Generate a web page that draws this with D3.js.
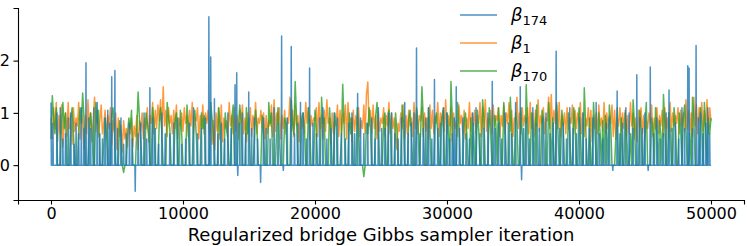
<!DOCTYPE html>
<html>
<head>
<meta charset="utf-8">
<script src="https://cdn.jsdelivr.net/npm/d3@7"></script>
<style>
  body { margin: 0; background: #fff; }
  text { font-family: "DejaVu Sans", sans-serif; }
</style>
</head>
<body>
<div id="chart"></div>
<script>
// Figure is 747 x 246 px.
var width = 747;
var height = 246;

// Trace values, one every 100 iterations (0 .. 50000).
var step = 100;
var beta1 = [
  0.9,0.5,1.1,0.7,1.2,0.45,0.95,0.6,1.15,0.35,0.8,1.0,0.55,1.2,0.7,0.95,0.4,1.1,0.65,0.9,
  0.75,1.2,0.5,1.05,0.85,0.3,0.95,0.6,1.25,0.7,1.0,0.45,0.9,1.3,0.65,1.05,0.55,0.85,1.15,0.6,
  0.8,1.05,0.5,0.95,0.7,1.1,0.4,0.85,0.65,1.0,0.3,0.9,0.55,0.75,0.25,0.85,0.5,0.7,0.35,0.8,
  0.6,0.9,0.35,0.75,0.55,0.95,0.3,0.85,0.65,1.0,0.5,0.9,0.7,1.1,0.45,0.95,0.8,1.2,0.6,1.05,
  0.7,1.15,0.85,1.25,0.6,1.5,0.75,1.05,0.55,1.1,0.8,0.95,0.6,1.05,0.7,1.15,0.5,0.9,0.75,1.0,
  0.65,1.1,0.8,0.95,0.55,1.05,0.75,1.2,0.6,0.9,0.85,1.1,0.5,0.95,0.7,1.15,0.6,1.0,0.8,1.05,
  0.6,0.95,0.4,0.85,0.3,1.0,0.65,1.1,0.5,1.15,0.45,0.9,0.7,0.85,0.55,1.2,0.75,0.95,0.6,1.1,
  0.65,0.95,0.5,1.05,0.8,1.15,0.6,0.9,0.45,1.0,0.75,1.1,0.55,0.95,0.7,1.2,0.6,0.9,0.8,1.05,
  0.7,1.0,0.5,0.95,0.6,0.85,0.75,1.15,0.55,1.25,0.65,1.0,0.8,1.1,0.5,0.95,0.7,1.05,0.6,0.9,
  0.8,1.3,0.65,1.05,0.55,1.15,0.75,0.95,0.45,1.0,0.7,0.9,0.6,1.2,0.8,1.1,0.5,0.95,0.75,0.9,
  0.85,1.1,0.55,1.2,0.7,0.95,0.5,1.05,0.65,1.25,0.8,0.9,0.4,1.0,0.6,0.85,0.75,1.15,0.55,1.05,
  0.6,1.0,0.8,1.15,0.5,1.2,0.7,0.9,0.45,1.05,0.65,0.95,0.75,1.1,0.55,0.85,0.7,1.15,0.6,1.35,
  1.59,0.75,1.05,0.6,1.15,0.7,0.95,0.5,1.0,0.65,0.9,0.8,1.1,0.55,0.95,0.75,1.2,0.6,1.0,0.7,
  0.9,0.55,0.3,0.8,0.65,1.0,0.7,1.15,0.5,0.95,0.6,1.05,0.75,0.9,0.55,1.2,0.7,1.05,0.6,0.95,
  0.85,1.1,0.55,1.0,0.65,0.9,0.5,1.15,0.7,1.05,0.6,0.95,0.8,1.2,0.55,1.0,0.75,1.1,0.65,1.25,
  0.6,0.95,0.75,1.1,0.45,1.0,0.7,0.85,0.55,1.15,0.8,0.95,0.6,1.05,0.5,0.9,0.7,1.2,0.65,1.0,
  0.75,1.05,0.6,0.95,0.8,1.2,0.55,1.1,0.7,1.25,0.65,0.9,0.8,1.05,0.6,1.15,0.75,0.95,0.85,1.1,
  0.55,0.95,0.75,1.15,0.6,1.0,0.8,1.2,0.65,1.05,0.55,0.9,0.85,1.3,0.7,1.0,0.6,1.1,0.75,0.95,
  0.8,1.1,0.6,1.2,0.7,1.0,0.55,1.05,0.75,1.25,0.65,0.95,0.8,1.1,0.6,0.9,0.85,1.3,0.7,1.35,
  0.65,1.05,0.8,1.15,0.7,1.2,0.55,0.95,0.75,1.0,0.6,1.1,0.7,0.9,0.8,1.15,0.6,1.05,0.7,1.0,
  0.8,1.2,0.6,1.0,0.55,0.9,0.75,1.1,0.65,1.05,0.45,0.95,0.7,1.0,0.6,1.15,0.75,0.9,0.65,1.2,
  0.6,1.0,0.7,0.95,0.8,1.15,0.55,1.05,0.5,0.9,0.75,1.1,0.65,1.0,0.7,1.05,0.55,0.95,0.6,1.2,
  0.75,1.0,0.5,0.9,0.45,1.05,0.7,1.1,0.6,0.95,0.5,0.85,0.7,1.0,0.8,1.15,0.55,0.9,0.7,1.1,
  0.6,0.95,0.75,1.05,0.55,1.1,0.7,0.9,0.5,1.2,0.65,1.0,0.75,0.95,0.8,1.1,0.6,1.05,0.75,1.0,
  0.65,1.25,0.7,1.05,0.6,1.0,0.55,1.3,0.75,1.15,0.6,1.1,0.8,1.2,0.65,1.05,0.7,1.25,0.6,1.1,
  0.85
];
var beta170 = [
  0.5,1.33,0.9,0.6,1.1,0,0,0,0.8,1.2,0.7,1.0,0,0,0,0.9,1.1,0.6,0,0,
  0,0.7,1.1,0.8,1.38,0.9,0,0,0,0.6,1.0,0.7,0,0,1.2,0.8,1.05,0,0,0,
  0.4,0.9,0.6,0,0,0,0.95,1.1,0.7,0,0,0,0.85,0.6,0,-0.14,0,0,0.6,0.9,
  0.7,1.05,0,0,0,0.7,1.4,0.9,0.5,0,0,0,1.0,0.8,0.6,0,0,1.1,0.8,0,
  0,0,0.8,1.1,0.6,0,0,0,1.2,0.9,0.7,0,0,0,0.85,1.0,0,0,1.05,0.6,
  0,0,0,1.15,0.8,0,0,0,0.9,1.05,0.6,0,0,0,1.0,0.7,0.95,0,0,0,
  0,1.2,0.9,0.6,0,0,0,1.1,0.8,0,0,0,1.0,0.7,0.5,0,0,0.9,1.15,0,
  0,0,0.7,1.15,0.85,0,0,0,1.1,0.6,0.9,0,0,0,0.4,1.05,0.7,0,0,0,
  0.95,0.6,0,0,0,1.2,0.8,1.0,0,0,0,0.7,1.1,0.5,0,0,0,0.9,0.8,0,
  0,0,1.25,0.8,0.6,1.6,0.9,0,0,0,0.9,1.0,0.7,0,0,1.1,0.8,0,0,0,
  1.05,0.7,0,0,0,1.3,0.8,0.9,0,0,0,1.1,0.7,0,0,1.0,0.8,0,0,0,
  0.5,1.55,0.8,0,0,0,1.0,0.6,0.9,0,0,0,1.1,0.7,0,0,0,-0.22,0,0.8,
  0.6,1.1,0.7,0,0,0,0.95,1.2,0.7,0,0,0,0.85,1.0,0,0,1.05,0.8,0,0,
  0,1.0,0.7,0,0,0,1.15,0.8,0,0,0,0.9,1.05,0.6,0,0,0,1.1,0.8,0,
  0.6,1.5,0.9,0,0,0,1.1,0.7,0,0,0,0.8,1.0,0.6,0,0,0.9,1.05,0,0,
  1.0,0.7,0,1.6,0.9,0,0,0,1.2,0.8,0,0,0,0.8,1.0,0.6,0,0,0.9,0,
  0.8,0,0,1.05,0.7,0,0,1.25,0.9,0,0,0,1.1,0.7,0,0,0.95,0.8,0,1.1,
  0.6,0,0,1.2,0.8,0,0,0,1.3,0.7,0,0,1.0,0.8,0,0,1.1,0.6,0,0,
  1.54,0.8,0,0,1.0,0.7,0,0.8,1.15,0,0,0,1.05,0.9,0,0,0,1.2,0.7,0,
  0.9,0,0,1.2,0.7,0,0,1.05,0.8,0,0,0,1.0,0.6,0,0,1.1,0.8,0,0,
  1.1,0.7,0,0,1.48,0.8,0,0,0.9,0,0,1.2,0.7,0,0,1.0,0.6,0,0.85,0,
  0.95,0.7,0,1.15,0.8,0,0,0,0.6,1.1,0,0,0.9,0,0,1.0,0.7,0,0,0.6,
  0,1.25,0.8,0,0,0,1.05,0.7,0,0,0.8,1.2,0,0,0,0.9,0.7,0,1.1,0.6,
  0,0.85,0.6,0,1.35,0.8,0,0,1.0,0.7,0,0,1.1,0.8,0,0,1.0,0.7,0,0.9,
  1.15,0.7,0,0,0.6,0,1.3,0.9,0,0,0,0,1.1,0.8,0,1.2,0.7,0,0.9,0.6,
  0.9
];
// beta_174 sits at 0 apart from short spikes: [iteration, height].
var blueSpikes = [
  [0,1.2],[150,0.8],[450,1.0],[700,1.1],[900,0.5],[1100,0.6],[1300,0.9],[1500,1.0],[1750,0.4],[1900,0.8],
  [2100,0.6],[2300,1.1],[2500,0.7],[2650,1.96],[2850,0.9],[3000,0.7],[3250,1.1],[3500,1.2],[3700,0.6],[3900,0.5],
  [4100,0.9],[4300,1.05],[4450,0.8],[4600,1.69],[4840,1.81],[5050,0.7],[5300,0.9],[5500,0.4],[5700,0.6],[5950,0.8],
  [6150,0.5],[6380,-0.5],[6600,0.6],[6800,0.8],[7050,1.0],[7250,0.5],[7490,1.48],[7700,0.9],[7900,0.7],[8150,0.4],
  [8400,1.0],[8650,0.6],[9000,0.6],[9300,0.8],[9600,0.9],[9900,0.4],[10200,0.5],[10500,0.8],[10800,1.1],[11100,0.6],
  [11400,0.7],[11700,0.9],[11960,2.84],[12100,2.07],[12380,1.27],[12650,0.6],[12900,0.8],[13150,0.5],[13400,1.0],[13650,0.7],
  [13940,1.54],[14070,1.77],[14150,-0.2],[14300,0.8],[14500,1.0],[14750,0.6],[14980,1.4],[15200,0.7],[15400,0.9],[15650,0.5],
  [15880,-0.33],[16100,0.9],[16300,0.7],[16600,0.5],[16900,1.1],[17200,0.8],[17470,2.47],[17600,-0.1],[17900,0.9],[18200,2.27],
  [18450,0.6],[18700,0.8],[18900,1.2],[19100,1.0],[19350,0.5],[19590,1.86],[19850,0.8],[20100,0.6],[20350,0.9],[20600,1.1],
  [20900,0.5],[21200,0.7],[21450,1.0],[21700,0.9],[22000,0.6],[22300,0.5],[22550,0.8],[22800,1.0],[23000,0.6],[23230,1.37],
  [23450,0.9],[23700,0.6],[24000,0.8],[24300,0.9],[24550,0.5],[24800,1.1],[25050,0.7],[25300,0.7],[25550,1.0],[25800,1.0],
  [26050,0.6],[26300,0.5],[26550,0.9],[26800,1.2],[27050,0.6],[27300,0.8],[27500,1.0],[27690,2.24],[27950,0.6],[28200,0.7],
  [28400,0.9],[28600,1.1],[28850,0.5],[29050,1.64],[29300,0.7],[29500,0.8],[29750,1.1],[30000,1.0],[30200,0.5],[30400,0.6],
  [30550,0.9],[30700,1.5],[30950,0.7],[31200,0.9],[31450,0.6],[31700,0.5],[31950,1.0],[32200,1.1],[32500,0.6],[32800,0.7],
  [33100,1.0],[33430,1.6],[33650,0.7],[33900,0.8],[34150,0.5],[34400,1.0],[34650,0.8],[34900,0.6],[35200,1.2],[35550,1.5],
  [35650,-0.28],[35800,0.7],[36000,0.9],[36250,0.5],[36500,1.1],[36750,0.8],[37000,0.7],[37250,0.9],[37500,1.0],[37800,0.6],
  [38050,0.8],[38270,2.18],[38550,0.7],[38800,0.8],[39050,0.5],[39300,1.1],[39550,0.7],[39800,0.6],[40050,0.9],[40300,1.0],
  [40550,0.5],[40800,0.7],[41050,0.9],[41300,1.2],[41550,0.6],[41800,0.5],[42050,0.8],[42300,0.9],[42560,-0.1],[42890,1.42],
  [43100,0.6],[43300,0.8],[43550,1.1],[43800,1.0],[44100,0.7],[44380,1.73],[44600,0.9],[44800,0.7],[45000,1.0],[45240,-0.1],
  [45400,1.88],[45650,0.6],[45900,0.9],[46150,0.5],[46400,0.6],[46600,1.0],[46820,1.44],[47050,0.7],[47300,0.8],[47550,0.5],
  [47800,1.1],[48000,0.7],[48240,1.9],[48340,1.86],[48600,0.7],[48870,2.29],[49050,0.9],[49200,1.0],[49400,0.6],[49600,0.8],
  [49750,1.1],[49900,0.6]
];
var seriesNames = ["\u03b2", "\u03b2", "\u03b2"];
var seriesSubs = ["174", "1", "170"];
var colors = ["#1f77b4", "#ff7f0e", "#2ca02c"];
var xTicks = [0, 10000, 20000, 30000, 40000, 50000];
var yTicks = [0, 1, 2];
var xLabel = "Regularized bridge Gibbs sampler iteration";

// Build [iteration, value] pairs.
var orangeData = beta1.map(function(v, i) { return [i * step, v]; });
var greenData = beta170.map(function(v, i) { return [i * step, v]; });
var blueData = [];
blueSpikes.forEach(function(s) {
  if (s[0] > 0) blueData.push([s[0] - 25, 0]);
  blueData.push(s);
  blueData.push([s[0] + 25, 0]);
});
blueData.push([50000, 0]);

var margin = { left: 18, right: 3, top: 8, bottom: 46 };
var plotW = width - margin.left - margin.right;
var plotH = height - margin.top - margin.bottom;

// matplotlib style 5% margins around the data.
var allVals = beta1.concat(beta170, blueSpikes.map(function(s) { return s[1]; }), [0]);
var yMin = d3.min(allVals), yMax = d3.max(allVals);
var yPad = (yMax - yMin) * 0.05;
var xPad = 50000 * 0.05;

var x = d3.scaleLinear().domain([-xPad, 50000 + xPad]).range([0, plotW]);
var y = d3.scaleLinear().domain([yMin - yPad, yMax + yPad]).range([plotH, 0]);

var svg = d3.select('#chart')
            .append('svg')
            .attr('width', width)
            .attr('height', height);

var g = svg.append('g')
           .attr('transform', 'translate(' + margin.left + ',' + margin.top + ')');

var line = d3.line()
             .x(function(d) { return x(d[0]); })
             .y(function(d) { return y(d[1]); });

// Orange and green underneath, blue spikes on top.
[[orangeData, colors[1]], [greenData, colors[2]], [blueData, colors[0]]].forEach(function(s) {
  g.append('path')
   .datum(s[0])
   .attr('fill', 'none')
   .attr('stroke', s[1])
   .attr('stroke-opacity', 0.8)
   .attr('stroke-width', 1.5)
   .attr('stroke-linejoin', 'round')
   .attr('d', line);
});

// Axes: only left and bottom spines.
var xAxis = g.append('g')
             .attr('transform', 'translate(0,' + plotH + ')')
             .call(d3.axisBottom(x).tickValues(xTicks).tickFormat(d3.format('d'))
                     .tickSizeOuter(0).tickSize(4.5).tickPadding(3.5));
var yAxis = g.append('g')
             .call(d3.axisLeft(y).tickValues(yTicks).tickFormat(d3.format('d'))
                     .tickSizeOuter(0).tickSize(4.5).tickPadding(3.5));

[xAxis, yAxis].forEach(function(a) {
  a.selectAll('path').attr('stroke', '#000').attr('stroke-width', 1.1);
  a.selectAll('line').attr('stroke', '#000').attr('stroke-width', 1.1);
  a.selectAll('text')
   .attr('fill', '#000')
   .style('font-family', '"DejaVu Sans", sans-serif')
   .style('font-size', '16px');
});

svg.append('text')
   .attr('x', margin.left + plotW / 2)
   .attr('y', 241)
   .attr('text-anchor', 'middle')
   .style('font-size', '18px')
   .attr('fill', '#000')
   .text(xLabel);

// Legend, no frame.
var legend = svg.append('g');
seriesNames.forEach(function(name, i) {
  var ly = 15 + i * 28;
  legend.append('line')
        .attr('x1', 460).attr('x2', 497)
        .attr('y1', ly).attr('y2', ly)
        .attr('stroke', colors[i])
        .attr('stroke-opacity', 0.8)
        .attr('stroke-width', 1.5);
  var t = legend.append('text')
                .attr('x', 511)
                .attr('y', ly + 6)
                .style('font-size', '18px')
                .attr('fill', '#000');
  t.append('tspan').style('font-style', 'italic').text(name);
  t.append('tspan').attr('dy', 4).style('font-size', '13px').text(seriesSubs[i]);
});
</script>
</body>
</html>
